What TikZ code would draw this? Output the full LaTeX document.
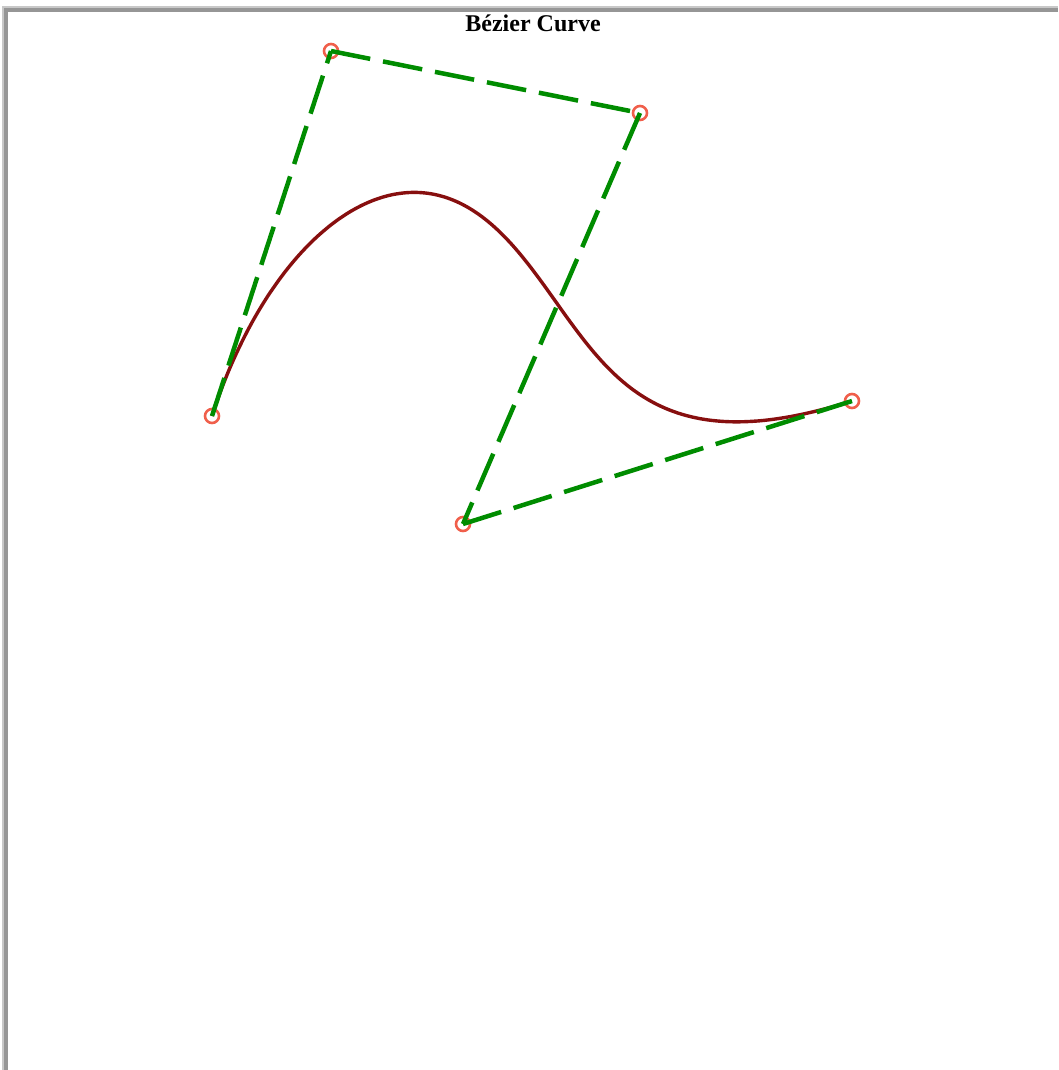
\documentclass[tikz,border=0pt]{standalone}
\usepackage{fontspec}
\setmainfont{Liberation Serif}
\usetikzlibrary{positioning}

\definecolor{ctrlred}{RGB}{240,95,75}
\definecolor{polygreen}{RGB}{0,140,0}
\definecolor{curvered}{RGB}{135,15,15}
\definecolor{frameout}{RGB}{200,200,200}
\definecolor{framein}{RGB}{150,150,150}

\begin{document}
\begin{tikzpicture}[
    x=1pt, y=-1pt,
    ctrl/.style={circle, draw=ctrlred, line width=2.6pt, minimum size=14pt, inner sep=0pt},
    polyline/.style={draw=polygreen, line width=4.5pt, dash pattern=on 40pt off 13pt},
    curve/.style={draw=curvered, line width=3.4pt},
    title/.style={font=\bfseries\fontsize{24}{28}\selectfont, anchor=base}
]

\useasboundingbox (0,0) rectangle (1058,1070);

% Frame
\fill[frameout] (2,6) rectangle (1058,8);
\fill[framein] (4,8) rectangle (1058,12);
\fill[frameout] (2,6) rectangle (4,1070);
\fill[framein] (4,8) rectangle (8,1070);

% Title
\node[title] (heading) at (533,32) {Bézier Curve};

% Control points
\node[ctrl] (p0) at (212,416) {};
\node[ctrl] (p1) at (331,51) {};
\node[ctrl] (p2) at (640,113) {};
\node[ctrl] (p3) at (463,524) {};
\node[ctrl] (p4) at (852,401) {};

% Curve
\draw[curve] plot[domain=0:1, samples=120, variable=\t, smooth]
  ({(1-\t)^4*212 + 4*(1-\t)^3*\t*331 + 6*(1-\t)^2*\t^2*640 + 4*(1-\t)*\t^3*463 + \t^4*852},
   {(1-\t)^4*416 + 4*(1-\t)^3*\t*51 + 6*(1-\t)^2*\t^2*113 + 4*(1-\t)*\t^3*524 + \t^4*401});

% Control polygon
\draw[polyline] (p0.center) -- (p1.center);
\draw[polyline] (p1.center) -- (p2.center);
\draw[polyline] (p2.center) -- (p3.center);
\draw[polyline] (p3.center) -- (p4.center);

\end{tikzpicture}
\end{document}
